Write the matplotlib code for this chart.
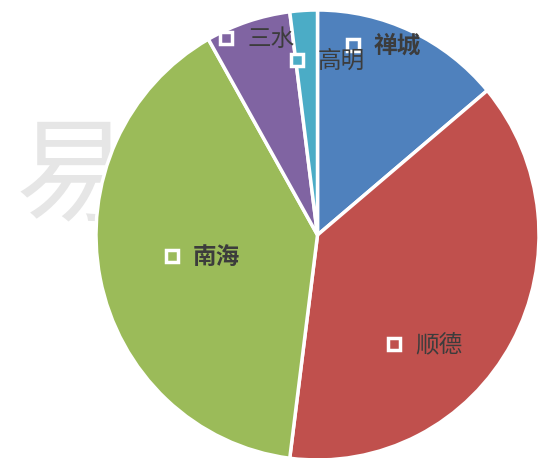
import matplotlib.pyplot as plt

plt.rcParams['font.family'] = ['Noto Sans CJK SC', 'DejaVu Sans']

districts = ["禅城", "顺德", "南海", "三水", "高明"]
shares = [13.9, 38.1, 39.8, 6.2, 2.0]
colors = ["#4F81BD", "#C0504D", "#9BBB59", "#8064A2", "#4BACC6"]

# label layout in pixel coords (x, y from top), and weight
label_pos = [(353, 45), (394, 344), (172, 256), (226, 38), (297, 60)]
label_bold = [True, False, True, False, False]

W, H = 539, 458
# pie centre and radii in pixels (slightly taller than wide, like the source)
cx, cy, rx, ry = 317.5, 235, 221.5, 225


def to_data(px, py):
    return (px - cx) / rx, (cy - py) / ry


fig = plt.figure(figsize=(W / 100, H / 100), dpi=100)
ax = fig.add_axes([0, 0, 1, 1])

# faint watermark behind the pie
wx, wy = to_data(72, 178)
ax.text(wx, wy, "易", fontsize=82, color="#e6e6e6", ha="center",
        va="center", zorder=0)

ax.pie(shares, colors=colors, startangle=90, counterclock=False,
       radius=1, frame=True,
       wedgeprops=dict(edgecolor="white", linewidth=2.5, zorder=2))
ax.set_xlim(-cx / rx, (W - cx) / rx)
ax.set_ylim((cy - H) / ry, cy / ry)
ax.set_aspect("auto")
ax.axis("off")

for name, c, (x, y), bold in zip(districts, colors, label_pos, label_bold):
    mx, my = to_data(x, y)
    tx, ty = to_data(x + 21, y + 1)
    ax.plot(mx, my, marker="s", markersize=8, markerfacecolor=c,
            markeredgecolor="white", markeredgewidth=2.5, zorder=3)
    ax.text(tx, ty, name, fontsize=17, color="#3c3c3c",
            ha="left", va="center", zorder=3,
            fontweight="bold" if bold else "normal")

fig.savefig("out.png", dpi=100)
